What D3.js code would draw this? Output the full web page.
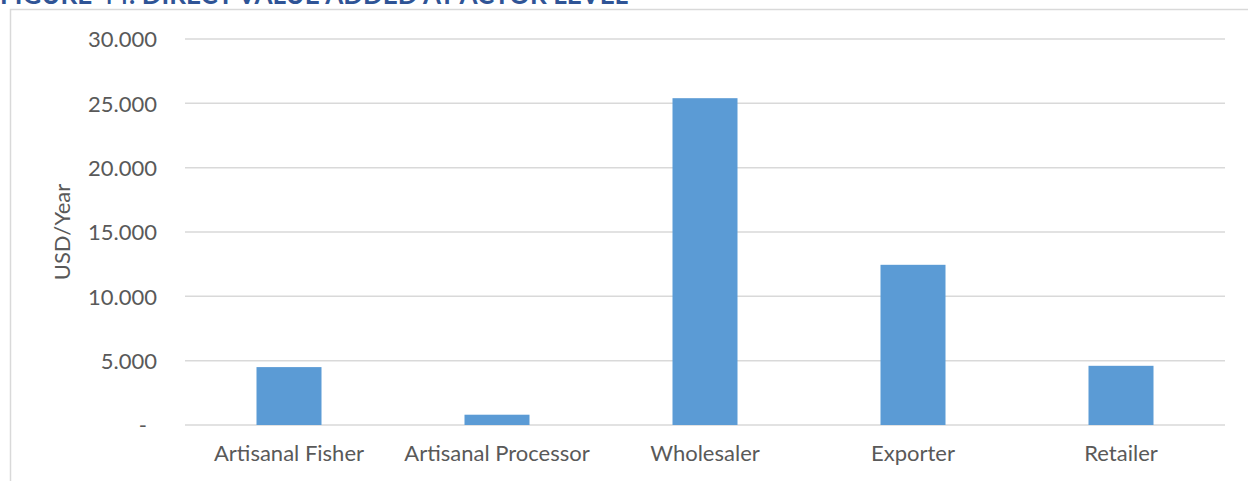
<!DOCTYPE html>
<meta charset="utf-8">
<style>
body { margin: 0; background: #fff; }
svg { display: block; }
.axis text { font-family: Lato, "Open Sans", sans-serif; fill: #595959; }
</style>
<body>
<script src="https://cdn.jsdelivr.net/npm/d3@7"></script>
<script>

// chart data
var categories = ["Artisanal Fisher", "Artisanal Processor", "Wholesaler", "Exporter", "Retailer"];
var values = [4500, 800, 25400, 12450, 4600];
var yTicks = [0, 5000, 10000, 15000, 20000, 25000, 30000];

var W = 1248, H = 481;
var plotLeft = 185, plotRight = 1225, plotTop = 39, plotBottom = 425;

var svg = d3.select("body").append("svg")
    .attr("width", W)
    .attr("height", H);

// chart frame (cropped at right and bottom)
svg.append("rect")
    .attr("x", 10.5).attr("y", 9.5)
    .attr("width", 1300).attr("height", 600)
    .attr("fill", "none")
    .attr("stroke", "#d9d9d9")
    .attr("stroke-width", 1.5);

// title, cut off at the top edge
svg.append("text")
    .attr("x", 0).attr("y", 4)
    .style("font-family", "Lato, sans-serif")
    .style("font-weight", "bold")
    .style("font-size", "26px")
    .style("fill", "#2f5496")
    .text("FIGURE 44: DIRECT VALUE ADDED AT ACTOR LEVEL");

var x = d3.scaleBand()
    .domain(categories)
    .range([plotLeft, plotRight])
    .paddingInner(0.6875)
    .paddingOuter(0.34375);

var y = d3.scaleLinear()
    .domain([0, 30000])
    .range([plotBottom, plotTop]);

var fmt = function(d) { return d === 0 ? "-" : d3.format(",")(d).replace(/,/g, "."); };

// gridlines
svg.append("g")
  .selectAll("line")
  .data(yTicks)
  .enter().append("line")
    .attr("x1", plotLeft).attr("x2", plotRight)
    .attr("y1", function(d) { return y(d); })
    .attr("y2", function(d) { return y(d); })
    .attr("stroke", "#d9d9d9")
    .attr("stroke-width", 1.5);

// y axis
var yAxis = svg.append("g")
    .attr("class", "axis")
    .attr("transform", "translate(" + (plotLeft - 28) + ",0)")
    .call(d3.axisLeft(y).tickValues(yTicks).tickFormat(fmt).tickSize(0).tickPadding(0));
yAxis.select(".domain").remove();
yAxis.selectAll("text")
    .style("font-size", "22px")
    .attr("dy", "0.35em")
    .attr("dx", function(d) { return d === 0 ? -10 : 0; });

// bars
svg.selectAll(".bar")
    .data(values)
  .enter().append("rect")
    .attr("class", "bar")
    .attr("x", function(d, i) { return x(categories[i]); })
    .attr("width", x.bandwidth())
    .attr("y", function(d) { return y(d); })
    .attr("height", function(d) { return plotBottom - y(d); })
    .attr("fill", "#5b9bd5");

// x axis
var xAxis = svg.append("g")
    .attr("class", "axis")
    .attr("transform", "translate(0," + plotBottom + ")")
    .call(d3.axisBottom(x).tickSize(0).tickPadding(20));
xAxis.select(".domain").remove();
xAxis.selectAll("text").style("font-size", "22px");

// y label
svg.append("text")
    .attr("transform", "translate(70," + ((plotTop + plotBottom) / 2) + ") rotate(-90)")
    .style("text-anchor", "middle")
    .style("font-family", "Lato, sans-serif")
    .style("font-size", "22px")
    .style("fill", "#595959")
    .text("USD/Year");

</script>
</body>
